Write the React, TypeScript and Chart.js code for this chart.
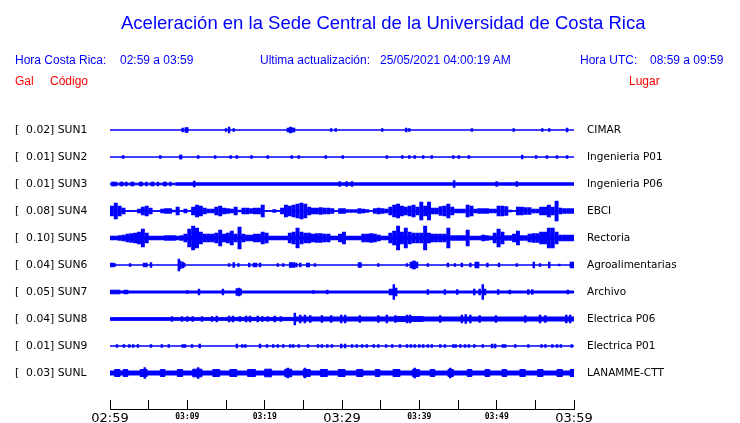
import React, { useEffect, useRef } from "react";
import { Chart, registerables } from "chart.js";

Chart.register(...registerables);

type Pair = [number, number];

// ---------- data ----------
const stationCodes = ["SUN1", "SUN2", "SUN3", "SUN4", "SUN5", "SUN6", "SUN7", "SUN8", "SUN9", "SUNL"];
const peakGal = [0.02, 0.01, 0.01, 0.08, 0.1, 0.04, 0.05, 0.04, 0.01, 0.03];
const placeNames = [
  "CIMAR", "Ingenieria P01", "Ingenieria P06", "EBCI", "Rectoria",
  "Agroalimentarias", "Archivo", "Electrica P06", "Electrica P01", "LANAMME-CTT",
];
const tickMinutes = [0, 5, 10, 15, 20, 25, 30, 35, 40, 45, 50, 55, 60];
const timeLabels = ["02:59", "03:09", "03:19", "03:29", "03:39", "03:49", "03:59"];
const majorTimeLabels = ["02:59", "03:29", "03:59"];

const titleText = "Aceleración en la Sede Central de la Universidad de Costa Rica";
const infoTexts: [string, number][] = [
  ["Hora Costa Rica:", 15], ["02:59 a 03:59", 120],
  ["Ultima actualización:", 260], ["25/05/2021 04:00:19 AM", 380],
  ["Hora UTC:", 580], ["08:59 a 09:59", 650],
];
const headTexts: [string, number][] = [["Gal", 15], ["Código", 50], ["Lugar", 629]];

// background noise band per trace: [minute, half amplitude] (held until next step)
const sun1Band: Pair[] = [[0, 0]];
const sun2Band: Pair[] = [[0, 0]];
const sun3Band: Pair[] = [[0, 0.8], [8.5, 1.2]];
const sun4Band: Pair[] = [[0, 0]];
const sun5Band: Pair[] = [[0, 1.2]];
const sun6Band: Pair[] = [[0, 0]];
const sun7Band: Pair[] = [[0, 1.8], [1.3, 1.0]];
const sun8Band: Pair[] = [[0, 1.35], [15, 1.6], [24, 2.0], [37, 2.4], [40.5, 2.0]];
const sun9Band: Pair[] = [[0, 0]];
const sunLBand: Pair[] = [
  [0, 2], [0.6, 3.5], [1.3, 2], [1.7, 3.5], [2.3, 2], [3.9, 3.5], [4.8, 2], [6.5, 3.5], [7.1, 2],
  [8.7, 3.5], [9.4, 2], [10.7, 3.8], [11.9, 2], [13.3, 3.5], [14.2, 2], [15.5, 3.5], [16.4, 2],
  [17.8, 3.5], [18.8, 2], [20.0, 3.8], [20.9, 2], [22.6, 3.8], [23.5, 2], [25.0, 3.5], [25.9, 2],
  [27.2, 3.5], [28.1, 2], [29.5, 3.5], [30.4, 2], [31.9, 3.5], [32.7, 2], [34.3, 3.5], [34.9, 2],
  [36.6, 3.5], [37.5, 2], [39.1, 3.5], [40.0, 2], [41.4, 3.5], [42.0, 2], [43.7, 3.5], [44.4, 2],
  [46.2, 3.5], [46.8, 2], [48.5, 3.5], [49.1, 2], [50.7, 3.5], [51.3, 2], [53.0, 3.5], [53.7, 2],
  [55.3, 3.5], [56.0, 2], [57.8, 3.5], [58.5, 2], [59.5, 3.5],
];

// individual peaks: [minute, half amplitude]
const sun1Spikes: Pair[] = [
  [9.4, 2], [9.8, 2.5], [10.0, 2.5], [15.0, 1.5], [15.4, 3], [16.0, 1.5], [23.0, 2], [23.3, 3],
  [23.5, 2.5], [23.8, 2], [28.6, 1.5], [29.2, 1.5], [35.2, 1.5], [38.3, 2], [38.7, 1.5], [46.8, 1.5],
  [52.2, 1.5], [55.9, 1.5], [56.8, 1.5], [59.1, 2],
];
const sun2Spikes: Pair[] = [
  [1.7, 1.5], [6.5, 1.5], [9.1, 2], [9.2, 2], [11.4, 1.5], [13.6, 1.5], [15.6, 1.5], [16.4, 1.5],
  [18.3, 1.5], [20.4, 1.5], [23.5, 1.5], [24.4, 1.5], [27.9, 1.5], [30.1, 1.5], [35.8, 1.5],
  [37.8, 1.5], [38.7, 1.5], [39.4, 1.5], [40.5, 1.5], [41.6, 1.5], [44.4, 1.5], [45.1, 1.5],
  [46.4, 1.5], [53.3, 2], [55.1, 1.5], [56.5, 1.5], [57.8, 1.5], [59.1, 1.5],
];
const sun3Spikes: Pair[] = [
  [0.3, 2], [0.5, 2], [0.8, 2], [1.4, 2], [1.6, 2], [2.1, 2], [2.8, 2], [3.0, 2], [3.9, 2], [4.1, 2],
  [4.7, 2], [5.4, 2], [5.6, 2], [6.2, 2], [7.0, 2], [7.2, 2], [7.8, 2], [10.9, 3], [29.7, 2.5],
  [30.6, 2.5], [31.3, 2.5], [44.5, 3.5], [50.0, 2.5], [52.6, 2.5],
];
const sun6Spikes: Pair[] = [
  [0.1, 2], [0.4, 2], [0.6, 1.5], [2.6, 1.5], [4.4, 2], [4.7, 2], [5.3, 2.5], [8.9, 6], [9.1, 4],
  [9.4, 3], [9.6, 2], [15.4, 1.5], [16.0, 2.5], [16.6, 1.5], [18.0, 2], [18.6, 2], [18.9, 2],
  [19.4, 2], [21.7, 1.5], [22.4, 1.5], [23.3, 2.5], [23.5, 2.5], [23.8, 2.5], [24.1, 2], [24.6, 2],
  [25.5, 2], [25.7, 2], [26.5, 1.5], [32.2, 2.5], [32.4, 2.5], [34.7, 1.5], [38.4, 1.5], [38.9, 3],
  [39.2, 4], [39.4, 4], [39.7, 3], [41.1, 1.5], [43.7, 2], [44.6, 1.5], [45.5, 2], [46.6, 2],
  [47.3, 3], [47.6, 3], [48.8, 2], [50.3, 2], [52.6, 1.5], [54.8, 3], [55.6, 1.5], [56.8, 3],
  [58.1, 1], [59.6, 3], [59.9, 3],
];
const sun7Spikes: Pair[] = [
  [1.9, 2], [2.2, 2], [10.0, 1.5], [11.5, 3], [14.6, 3], [16.4, 3.5], [16.7, 4], [16.9, 3],
  [26.3, 1.5], [28.1, 2], [36.2, 3], [36.5, 3], [36.7, 7.5], [37.0, 4], [41.1, 2.5], [43.3, 2.5],
  [44.9, 2.5], [47.1, 3], [47.8, 3], [48.2, 7.5], [48.5, 3], [50.2, 2.5], [51.7, 2], [54.1, 2.5],
  [54.6, 2.5], [59.2, 2],
];
const sun8Spikes: Pair[] = [
  [8.0, 2.5], [9.3, 2.5], [10.0, 2.5], [10.7, 2.5], [11.9, 2.5], [13.2, 2.5], [13.8, 3], [15.4, 3],
  [15.9, 3], [16.8, 2.5], [17.6, 3], [18.1, 3], [19.1, 3], [19.7, 2.5], [20.4, 2.5], [21.3, 3],
  [22.1, 2.5], [23.9, 6], [24.6, 4], [25.2, 4], [25.9, 3.5], [27.4, 3.5], [28.6, 3.5], [29.9, 4],
  [30.4, 4], [32.3, 3.5], [34.7, 3.5], [35.8, 4], [36.9, 3.5], [38.4, 4], [38.8, 4], [42.7, 3.5],
  [45.5, 4], [46.0, 4.5], [46.6, 4], [47.8, 3.5], [49.9, 3.5], [53.7, 3.5], [55.6, 4], [56.3, 3.5],
  [59.0, 4], [59.5, 4],
];
const sun9Spikes: Pair[] = [
  [0.9, 1.5], [1.8, 1.5], [2.5, 1.5], [3.0, 1.5], [3.6, 1.5], [5.3, 1.5], [6.7, 1.5], [7.6, 1.5],
  [9.4, 1.5], [9.7, 1.5], [10.6, 1.5], [11.6, 2], [16.4, 2], [17.1, 1.5], [17.5, 1.5], [19.4, 2],
  [20.3, 1.5], [21.1, 1.5], [21.7, 1.5], [22.4, 1.5], [23.3, 1.5], [23.7, 1.5], [24.4, 1.5],
  [25.6, 1.5], [26.9, 1.5], [27.4, 1.5], [28.1, 1.5], [28.7, 1.5], [29.9, 2], [30.4, 2], [31.3, 1.5],
  [31.9, 1.5], [32.6, 1.5], [33.2, 1.5], [34.1, 1.5], [34.7, 1.5], [35.7, 1.5], [36.5, 1.5],
  [37.5, 1.5], [38.4, 1.5], [38.9, 1.5], [39.4, 1.5], [40.0, 1.5], [40.5, 1.5], [41.1, 1.5],
  [41.6, 1.5], [42.7, 1.5], [43.3, 1.5], [44.4, 1.5], [44.7, 1.5], [45.3, 1.5], [45.9, 1.5],
  [46.4, 1.5], [47.1, 1.5], [48.2, 1.5], [49.4, 2], [49.8, 2], [50.8, 1.5], [51.1, 1.5], [52.4, 1.5],
  [54.1, 1.5], [55.8, 1.5], [56.3, 1.5], [57.2, 1.5], [57.8, 1.5], [58.3, 1.5], [59.7, 1.5],
];
const sunLSpikes: Pair[] = [[4.5, 5.5], [11.4, 5.5], [23.0, 5], [25.2, 5], [39.4, 5], [44.0, 5]];

// half-minute envelopes (half amplitude) for the two busiest traces
const sun4Env = [
  5, 8, 5, 3, 0.5, 0.5, 0.5, 2, 4, 5, 3, 0.5, 0.5, 2, 2.5, 2.5, 1, 4, 0.5, 2,
  0.5, 4, 6, 5, 3, 2, 2, 4, 5, 3, 2.5, 2, 4, 1, 3, 3, 2.5, 3, 3, 6,
  0.5, 0.5, 1.5, 0.5, 3, 6, 5, 6, 7, 8, 7, 4, 3, 3, 3.5, 3, 3, 2.5, 0.5, 2.5,
  2.5, 1.5, 1.5, 1.5, 2.5, 2, 1.5, 0.5, 2.5, 3, 2.5, 2, 4, 6, 7, 5, 4, 5, 6, 4,
  9, 5, 9, 3, 3, 4.5, 5, 7, 4, 2, 2, 2, 6, 5, 2, 2.5, 2.5, 2.5, 2, 2,
  5, 5, 4.5, 1, 0.5, 4, 4, 3.5, 3.5, 2, 2, 4, 4, 6, 4, 10, 3, 2.5, 2.5, 2.5,
];
const sun5Env = [
  2, 2, 2.5, 3, 4, 4.5, 5, 6, 9, 5, 2, 2, 2, 2, 2.5, 2.5, 2.5, 2, 2.5, 4,
  9, 12, 10, 6, 4, 4, 4, 5, 8, 4, 5, 7, 4, 11, 4, 3, 3, 4, 4, 6,
  5, 2, 2, 2, 2, 2, 5, 6, 10, 6, 5, 5, 4, 4.5, 4.5, 4, 4, 2, 2, 4,
  6, 2, 2, 2, 2, 4, 4, 4.5, 4, 3, 2, 2, 5, 7, 12, 6, 10, 6, 5, 5,
  5, 12, 5, 4, 4, 4, 4, 10, 2.5, 2.5, 2.5, 2.5, 8, 2, 2, 2, 3, 2.5, 2, 5,
  9, 6, 2.5, 2.5, 4, 7, 2.5, 2.5, 4, 4.5, 4.5, 6, 6, 10, 10, 6, 3, 3, 3, 3,
];

const bands = [sun1Band, sun2Band, sun3Band, sun4Band, sun5Band, sun6Band, sun7Band, sun8Band, sun9Band, sunLBand];
const spikes = [sun1Spikes, sun2Spikes, sun3Spikes, [], [], sun6Spikes, sun7Spikes, sun8Spikes, sun9Spikes, sunLSpikes];
const envelopes: (number[] | null)[] = [null, null, null, sun4Env, sun5Env, null, null, null, null, null];

// ---------- chart ----------
const BLUE = "#0000ff";
const SPACING = 27; // display units between trace baselines
const ENV_STEP = 0.5; // minutes per envelope sample

function buildDatasets() {
  const ds: any[] = [];
  stationCodes.forEach((_, k) => {
    const c = k * SPACING;
    const band = bands[k];
    const last = band[band.length - 1][1];
    const edge = (sign: number) => [
      ...band.map(([t, a]) => ({ x: t, y: c + sign * a })),
      { x: 60, y: c + sign * last },
    ];
    ds.push({
      type: "line", data: edge(-1), stepped: true, borderColor: BLUE, borderWidth: 1,
      pointRadius: 0, fill: false, yAxisID: "y",
    });
    ds.push({
      type: "line", data: edge(1), stepped: true, borderColor: BLUE, borderWidth: 1,
      pointRadius: 0, fill: "-1", backgroundColor: BLUE, yAxisID: "y",
    });
    const env = envelopes[k];
    if (env) {
      ds.push({
        type: "bar",
        data: env.map((a, i) => ({ x: i * ENV_STEP + ENV_STEP / 2, y: [c - a, c + a] })),
        backgroundColor: BLUE, borderWidth: 0, barThickness: 3.3, grouped: false, yAxisID: "y",
      });
    }
    if (spikes[k].length) {
      ds.push({
        type: "bar",
        data: spikes[k].map(([t, a]) => ({ x: t, y: [c - a, c + a] })),
        backgroundColor: BLUE, borderWidth: 0, barThickness: 1.8, grouped: false, yAxisID: "y",
      });
    }
  });
  return ds;
}

const traceTicks = (s: any) => {
  s.ticks = stationCodes.map((_, k) => ({ value: k * SPACING }));
};

export default function App() {
  const ref = useRef<HTMLCanvasElement>(null);

  useEffect(() => {
    if (!ref.current) return;
    const yMin = -SPACING / 2;
    const yMax = 279;
    const chart = new Chart(ref.current, {
      type: "bar",
      data: { datasets: buildDatasets() },
      options: {
        animation: false,
        responsive: false,
        events: [],
        layout: { padding: { left: 15, right: 26, top: 116.5, bottom: 0 } },
        plugins: { legend: { display: false }, tooltip: { enabled: false } },
        scales: {
          x: {
            type: "linear", min: 0, max: 60, offset: false,
            afterBuildTicks: (s: any) => { s.ticks = tickMinutes.map((v) => ({ value: v })); },
            afterFit: (s: any) => { s.height = 14; },
            grid: {
              display: true, drawOnChartArea: false, drawTicks: true, tickLength: -9,
              color: "#000", lineWidth: 1, offset: false,
            },
            border: { display: true, color: "#000", width: 1 },
            ticks: {
              autoSkip: false, maxRotation: 0, minRotation: 0, padding: 10.8, color: "#000",
              callback: (_v: any, i: number) => (i % 2 === 0 ? timeLabels[i / 2] : ""),
              font: (ctx: any) => {
                const i = ctx.index ?? 0;
                const lab = i % 2 === 0 ? timeLabels[i / 2] : "";
                return majorTimeLabels.includes(lab)
                  ? { family: "DejaVu Sans", size: 13, lineHeight: 1.2 }
                  : { family: "DejaVu Sans Mono", size: 8, weight: "bold", lineHeight: 1.65 };
              },
            },
          },
          y: {
            type: "linear", position: "left", reverse: true, min: yMin, max: yMax,
            afterBuildTicks: traceTicks,
            afterFit: (s: any) => { s.width = 95; },
            grid: { display: false, drawTicks: false }, border: { display: false },
            ticks: {
              crossAlign: "far", padding: 0, color: "#000",
              font: { family: "DejaVu Sans", size: 10.8 },
              callback: (_v: any, i: number) => `[  ${peakGal[i].toFixed(2)}] ${stationCodes[i]}`,
            },
          },
          y2: {
            type: "linear", position: "right", reverse: true, min: yMin, max: yMax,
            afterBuildTicks: traceTicks,
            afterFit: (s: any) => { s.width = 140; },
            grid: { display: false, drawTicks: true, tickLength: 13 }, border: { display: false },
            ticks: {
              crossAlign: "near", padding: 0, color: "#000",
              font: { family: "DejaVu Sans", size: 10.5 },
              callback: (_v: any, i: number) => placeNames[i],
            },
          },
        },
      } as any,
    });
    return () => chart.destroy();
  }, []);

  const sans = "'Liberation Sans', Arial, Helvetica, sans-serif";
  return (
    <div style={{ position: "fixed", left: 0, top: 0, width: 740, height: 423, background: "#fff", overflow: "hidden" }}>
      <canvas ref={ref} width={740} height={423} style={{ position: "absolute", left: 0, top: 0, width: 740, height: 423 }} />
      <div style={{ position: "absolute", left: 121, top: 12.6, font: `18.5px ${sans}`, lineHeight: "20px", color: BLUE, whiteSpace: "pre" }}>
        {titleText}
      </div>
      {infoTexts.map(([t, x]) => (
        <div key={t} style={{ position: "absolute", left: x, top: 53.3, font: `12px ${sans}`, lineHeight: "14px", color: BLUE, whiteSpace: "pre" }}>{t}</div>
      ))}
      {headTexts.map(([t, x]) => (
        <div key={t} style={{ position: "absolute", left: x, top: 74.3, font: `12px ${sans}`, lineHeight: "14px", color: "#ff0000", whiteSpace: "pre" }}>{t}</div>
      ))}
    </div>
  );
}
